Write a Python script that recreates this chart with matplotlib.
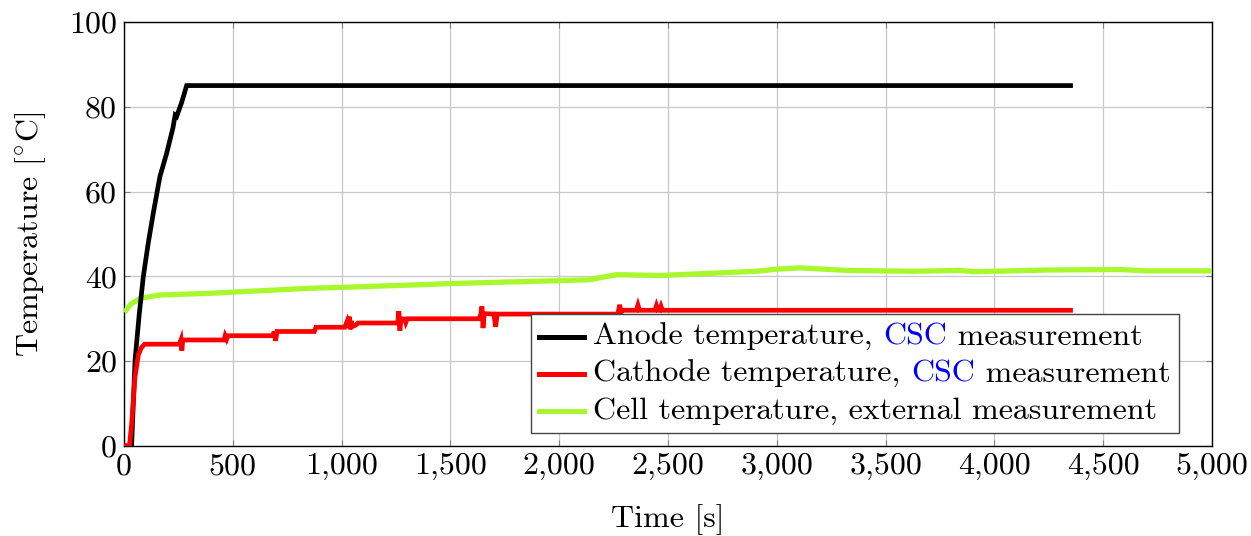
import matplotlib
matplotlib.use("Agg")
import matplotlib.pyplot as plt
from matplotlib.ticker import FuncFormatter, MultipleLocator
from matplotlib.offsetbox import (AnchoredOffsetbox, VPacker, HPacker,
                                  TextArea, DrawingArea)
from matplotlib.lines import Line2D

plt.rcParams["font.family"] = ["cmr10", "DejaVu Serif"]
plt.rcParams["mathtext.fontset"] = "cm"
plt.rcParams["axes.unicode_minus"] = False

# Anode temperature (CSC)
anode_t = [0, 35, 51, 70, 89, 112, 135, 165, 196, 225, 235, 242, 265, 288, 4350]
anode_T = [0, 0, 20.3, 31, 40, 48, 55, 63.5, 69, 75, 78, 77.7, 81, 85, 85]

# Cathode temperature (CSC)
cathode_t = [0, 25, 35, 50, 66, 80, 95,
             255, 262, 266, 270,
             460, 465, 472, 478,
             685, 690, 697, 703,
             875, 882,
             1015, 1025, 1030, 1035, 1040, 1045, 1050, 1065, 1075,
             1258, 1263, 1268, 1273, 1290, 1295, 1302,
             1630, 1640, 1645, 1650, 1656, 1700, 1708, 1715,
             2270, 2278, 2284, 2290, 2355, 2362, 2369, 2440, 2447, 2454,
             2462, 2468, 2474, 4350]
cathode_T = [0, 0, 5, 16, 21.5, 23.2, 24,
             24, 25, 22.5, 25,
             25, 26, 25.2, 26,
             26, 27, 24.8, 27,
             27, 28,
             28, 29.3, 28, 30.5, 27.5, 29.5, 28.2, 28.5, 29,
             29, 31.8, 27.2, 30, 29.9, 29.1, 30,
             30, 31, 32.9, 27.8, 31.2, 31.1, 28.1, 31.1,
             31.1, 33.3, 31.5, 32, 32, 33.2, 32, 32, 33.1, 32,
             32, 32.9, 32, 32]

# Cell temperature (external)
cell_t = [10, 30, 74, 165, 395, 855, 1000, 1345, 1500, 2000, 2142, 2188,
          2264, 2463, 2907, 3000, 3107, 3321, 3627, 3842, 3903, 4255,
          4577, 4700, 5000]
cell_T = [32, 33.4, 34.8, 35.6, 36, 37.2, 37.4, 38.0, 38.3, 39.0, 39.2,
          39.7, 40.4, 40.2, 41.2, 41.7, 42.0, 41.4, 41.2, 41.4, 41.1, 41.5,
          41.6, 41.3, 41.3]

GREEN = "#a9f82e"
FS = 23

fig = plt.figure(figsize=(12.51, 5.36), dpi=100)
ax = fig.add_axes([0.0991, 0.168, 0.8697, 0.791])

ax.plot(cell_t, cell_T, color=GREEN, lw=3.8, solid_joinstyle="round", zorder=3)
ax.plot(anode_t, anode_T, color="black", lw=3.4, solid_joinstyle="miter", zorder=4)
ax.plot(cathode_t, cathode_T, color="red", lw=3.4, solid_joinstyle="miter", zorder=5)

ax.set_xlim(0, 5000)
ax.set_ylim(0, 100)
ax.xaxis.set_major_locator(MultipleLocator(500))
ax.yaxis.set_major_locator(MultipleLocator(20))
ax.xaxis.set_major_formatter(FuncFormatter(lambda v, p: f"{v:,.0f}"))
ax.yaxis.set_major_formatter(FuncFormatter(lambda v, p: f"{v:.0f}"))

ax.grid(True, color="#c8c8c8", lw=0.9)
ax.set_axisbelow(True)
ax.tick_params(direction="in", length=4, width=0.8, color="#808080",
               top=True, right=True, labelsize=FS, pad=5)
for s in ax.spines.values():
    s.set_linewidth(1.0)
    s.set_color("black")

ax.set_xlabel("Time [s]", fontsize=FS, labelpad=17)
ax.set_ylabel(r"Temperature [$^{\circ}$C]", fontsize=FS, labelpad=15)

# Legend with part of each label coloured
entries = [
    ("black", [("Anode temperature, ", "black"), ("CSC", "blue"), (" measurement", "black")]),
    ("red", [("Cathode temperature, ", "black"), ("CSC", "blue"), (" measurement", "black")]),
    (GREEN, [("Cell temperature, external measurement", "black")]),
]
rows = []
for col, parts in entries:
    da = DrawingArea(32.5, 16, 0, 0)
    da.add_artist(Line2D([0, 32.5], [8, 8], color=col, lw=3.6))
    texts = [TextArea(s, textprops=dict(color=c, fontsize=FS)) for s, c in parts]
    label = HPacker(children=texts, align="baseline", pad=0, sep=0)
    rows.append(HPacker(children=[da, label], align="center", pad=0, sep=6.5))
vbox = VPacker(children=rows, align="left", pad=6, sep=6.5)
leg = AnchoredOffsetbox(loc="lower right", child=vbox, pad=0, borderpad=0,
                        frameon=True, bbox_to_anchor=(0.9697, 0.0307),
                        bbox_transform=ax.transAxes)
leg.patch.set_edgecolor("#444444")
leg.patch.set_linewidth(1.0)
leg.patch.set_boxstyle("square", pad=0)
leg.set_zorder(10)
ax.add_artist(leg)

fig.savefig("out.png", dpi=100)
